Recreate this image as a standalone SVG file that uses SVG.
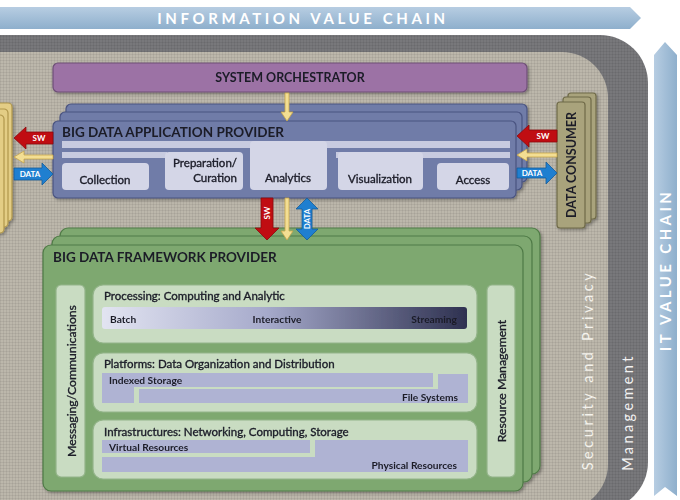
<svg xmlns="http://www.w3.org/2000/svg" width="680" height="500" viewBox="0 0 680 500">
<defs>
<style>
.t{font-family:Lato,"Liberation Sans",sans-serif;fill:#1b1c28}
.k{stroke:#1b1c28;stroke-width:0.35}
.b{font-weight:bold}
.w{fill:#fff}
.ttl{font-size:13.5px;font-weight:bold}
.app{fill:#6f7ba8;stroke:#4a5480;stroke-width:1.2}
.strip{fill:#c8cbe0}
.abox{fill:#d4d6e7}
.grn{fill:#7ea870;stroke:#4f7a46;stroke-width:1.2}
.lg{fill:#c9dcc2;stroke:#93b489;stroke-width:1.2}
.lav{fill:#afb3d3}
.gold{fill:#e3cd85;stroke:#b0974c;stroke-width:1.2}
.olive{fill:#a9a37c;stroke:#6f6a48;stroke-width:1.2}
.red{fill:#c00d12;stroke:#8a0a0c;stroke-width:0.8}
.yel{fill:#f3de93;stroke:#c7a64a;stroke-width:0.8}
.blu{fill:#1f7fd0;stroke:#155c98;stroke-width:0.8}
.sm{font-size:8px;font-weight:bold}
.lbl{font-size:11.5px}
.in{font-size:10.2px;font-weight:bold}
</style>
<linearGradient id="hb" x1="0" y1="0" x2="0" y2="1"><stop offset="0" stop-color="#b7cde2"/><stop offset="1" stop-color="#8eafcc"/></linearGradient>
<linearGradient id="vb" x1="0" y1="0" x2="1" y2="0"><stop offset="0" stop-color="#b7cde2"/><stop offset="1" stop-color="#8eafcc"/></linearGradient>
<linearGradient id="proc" x1="0" y1="0" x2="1" y2="0"><stop offset="0" stop-color="#e2e4f1"/><stop offset="0.45" stop-color="#a6aacb"/><stop offset="1" stop-color="#2e3150"/></linearGradient>
<pattern id="linen" width="3" height="3" patternUnits="userSpaceOnUse"><path d="M0 0.5H3M0.5 0V3" stroke="#000" stroke-opacity="0.06" stroke-width="1"/></pattern>
<filter id="sh" x="-10%" y="-10%" width="130%" height="130%"><feDropShadow dx="1.5" dy="1.5" stdDeviation="1.5" flood-opacity="0.35"/></filter>
</defs>
<rect width="680" height="500" fill="#fff"/>

<g id="information-value-chain">
<polygon points="0,7 630,7 641,18 630,29 0,29" fill="url(#hb)"/>
<text class="t w b" x="303" y="23.5" text-anchor="middle" style="font-size:15px;letter-spacing:3.6px;fill:#fff">INFORMATION VALUE CHAIN</text>
</g>

<g id="it-value-chain">
<polygon points="654,55 665,42 677,55 677,496 665,487 654,496" fill="url(#vb)"/>
<text class="t w b" transform="translate(671,270) rotate(-90)" text-anchor="middle" style="font-size:15px;letter-spacing:3.4px;fill:#fff">IT VALUE CHAIN</text>
</g>

<g id="management">
<rect x="-60" y="35" width="708" height="475" rx="48" fill="#78787b"/>
<rect x="-60" y="35" width="708" height="475" rx="48" fill="url(#linen)"/>
<text class="t w" transform="translate(633,412) rotate(-90)" text-anchor="middle" style="font-size:14.5px;letter-spacing:3.4px;fill:#f2f2f2">Management</text>
</g>

<g id="security-privacy">
<rect x="-60" y="52" width="668" height="458" rx="46" fill="#bcb7ab"/>
<rect x="-60" y="52" width="668" height="458" rx="46" fill="url(#linen)"/>
<text class="t w" transform="translate(593,370) rotate(-90)" text-anchor="middle" style="font-size:14.5px;letter-spacing:3.6px;fill:#f4f2ec">Security and Privacy</text>
</g>

<g id="system-orchestrator" filter="url(#sh)">
<rect x="53" y="63" width="474" height="29" rx="5" fill="#9c72a5" stroke="#6e4f77" stroke-width="1.2"/>
<text class="t b" x="290" y="82" text-anchor="middle" style="font-size:12.5px">SYSTEM ORCHESTRATOR</text>
</g>

<g id="data-provider" filter="url(#sh)">
<rect x="-30" y="103" width="42" height="118" rx="4" class="gold"/>
<rect x="-34" y="109" width="42" height="118" rx="4" class="gold"/>
<rect x="-38" y="115" width="42" height="118" rx="4" class="gold"/>
</g>

<g id="big-data-application-provider" filter="url(#sh)">
<rect x="66" y="104" width="461" height="78" rx="5" class="app"/>
<rect x="60" y="112" width="462" height="78" rx="5" class="app"/>
<rect x="53" y="121" width="463" height="77" rx="5" class="app"/>
<text class="t ttl" x="62" y="137">BIG DATA APPLICATION PROVIDER</text>
<rect x="62" y="141" width="448" height="7" class="strip"/>
<rect x="62" y="152" width="105" height="6" class="strip"/>
<rect x="336" y="152" width="174" height="6" class="strip"/>
<rect x="62" y="163" width="87" height="27" rx="4" class="abox"/>
<rect x="165" y="152" width="78" height="38" rx="4" class="abox"/>
<rect x="250" y="141" width="77" height="49" rx="4" class="abox"/>
<rect x="338" y="152" width="85" height="38" rx="4" class="abox"/>
<rect x="437" y="163" width="72" height="27" rx="4" class="abox"/>
<text class="t k lbl" x="105" y="184" text-anchor="middle">Collection</text>
<text class="t k lbl" x="237" y="167" text-anchor="end">Preparation/</text>
<text class="t k lbl" x="237" y="182" text-anchor="end">Curation</text>
<text class="t k lbl" x="288" y="182" text-anchor="middle">Analytics</text>
<text class="t k lbl" x="380" y="183" text-anchor="middle">Visualization</text>
<text class="t k lbl" x="473" y="184" text-anchor="middle">Access</text>
</g>

<g id="data-consumer" filter="url(#sh)">
<rect x="568" y="93" width="28" height="126" rx="3" class="olive"/>
<rect x="563" y="97" width="28" height="126" rx="3" class="olive"/>
<rect x="557" y="102" width="28" height="126" rx="3" class="olive"/>
<text class="t b" transform="translate(576,165) rotate(-90)" text-anchor="middle" style="font-size:12.5px">DATA CONSUMER</text>
</g>

<g id="big-data-framework-provider" filter="url(#sh)">
<rect x="60" y="228" width="480" height="246" rx="8" class="grn"/>
<rect x="52" y="236" width="480" height="246" rx="8" class="grn"/>
<rect x="43" y="245" width="480" height="246" rx="8" class="grn"/>
<text class="t ttl" x="53" y="262">BIG DATA FRAMEWORK PROVIDER</text>
<g id="messaging">
<rect x="56" y="285" width="29" height="192" rx="5" class="lg"/>
<text class="t k" transform="translate(76,381) rotate(-90)" text-anchor="middle" style="font-size:12.2px">Messaging/Communications</text>
</g>
<g id="resource-management">
<rect x="487" y="285" width="28" height="192" rx="5" class="lg"/>
<text class="t k" transform="translate(506,381) rotate(-90)" text-anchor="middle" style="font-size:12.2px">Resource Management</text>
</g>
<g id="processing">
<rect x="93" y="285" width="384" height="58" rx="10" class="lg"/>
<text class="t k" x="104" y="300" style="font-size:11.5px">Processing: Computing and Analytic</text>
<rect x="102" y="307" width="365" height="22" rx="3" fill="url(#proc)"/>
<text class="t in" x="110" y="322.5">Batch</text>
<text class="t in" x="277" y="322.5" text-anchor="middle">Interactive</text>
<text class="t in" x="457" y="322.5" text-anchor="end">Streaming</text>
</g>
<g id="platforms">
<rect x="93" y="353" width="384" height="59" rx="10" class="lg"/>
<text class="t k" x="104" y="368" style="font-size:11.5px">Platforms: Data Organization and Distribution</text>
<path d="M102 373H433V387H134V403H102Z" class="lav"/>
<path d="M438 374H468V403H139V389H438Z" class="lav"/>
<text class="t in" x="109" y="384">Indexed Storage</text>
<text class="t in" x="458" y="400.5" text-anchor="end">File Systems</text>
</g>
<g id="infrastructures">
<rect x="93" y="420" width="384" height="59" rx="10" class="lg"/>
<text class="t k" x="104" y="435.5" style="font-size:11.5px">Infrastructures: Networking, Computing, Storage</text>
<rect x="102" y="440" width="208" height="13" class="lav"/>
<path d="M315 440H468V472H102V457H315Z" class="lav"/>
<text class="t in" x="109" y="450.5">Virtual Resources</text>
<text class="t in" x="457" y="468.5" text-anchor="end">Physical Resources</text>
</g>
</g>

<g id="connectors">
<polygon class="yel" points="285,93 289,93 289,112 293,112 287,121 281,112 285,112"/>
<polygon class="red" points="14,138 26,127 26,132 53,132 53,144 26,144 26,149"/>
<text class="t w sm" x="39" y="141" text-anchor="middle" style="fill:#fff">SW</text>
<polygon class="yel" points="14,157 24,151 24,155 53,155 53,159 24,159 24,163"/>
<polygon class="blu" points="14,168 42,168 42,163 53,174 42,185 42,180 14,180"/>
<text class="t w sm" x="30" y="177" text-anchor="middle" style="fill:#fff">DATA</text>
<polygon class="red" points="517,136 529,125 529,130 557,130 557,142 529,142 529,147"/>
<text class="t w sm" x="543" y="139" text-anchor="middle" style="fill:#fff">SW</text>
<polygon class="yel" points="517,155 527,149 527,153 557,153 557,157 527,157 527,161"/>
<polygon class="blu" points="517,168 546,168 546,162 557,173 546,184 546,178 517,178"/>
<text class="t w sm" x="532" y="176" text-anchor="middle" style="fill:#fff">DATA</text>
<polygon class="red" points="261,198 273,198 273,228 279,228 267,240 255,228 261,228"/>
<text class="t w sm" transform="translate(270,213) rotate(-90)" text-anchor="middle" style="fill:#fff">SW</text>
<polygon class="yel" points="285,198 289,198 289,231 293,231 287,240 281,231 285,231"/>
<polygon class="blu" points="307,198 318,209 312,209 312,229 318,229 307,240 296,229 302,229 302,209 296,209"/>
<text class="t w sm" transform="translate(310,219) rotate(-90)" text-anchor="middle" style="fill:#fff">DATA</text>
</g>
</svg>
